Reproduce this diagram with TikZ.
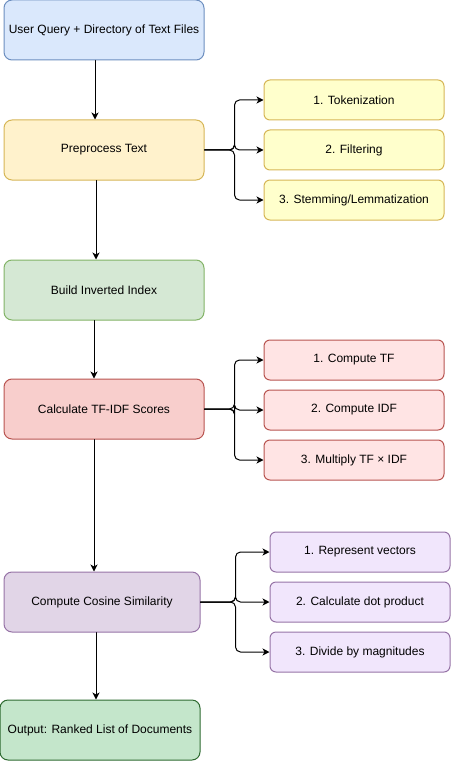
\documentclass[tikz,border=0pt]{standalone}
\usepackage{fontspec}
\setmainfont{Liberation Sans}
\usetikzlibrary{arrows.meta}
\definecolor{qfill}{HTML}{DAE8FC}\definecolor{qdraw}{HTML}{6C8EBF}
\definecolor{pfill}{HTML}{FFF2CC}\definecolor{pdraw}{HTML}{D6B656}
\definecolor{sfill}{HTML}{FFFFCC}
\definecolor{ifill}{HTML}{D5E8D4}\definecolor{idraw}{HTML}{82B366}
\definecolor{tfill}{HTML}{F8CECC}\definecolor{tdraw}{HTML}{B85450}
\definecolor{rfill}{HTML}{FFE4E4}
\definecolor{cfill}{HTML}{E1D5E7}\definecolor{cdraw}{HTML}{9673A6}
\definecolor{vfill}{HTML}{F1E6FC}
\definecolor{ofill}{HTML}{C4E6CB}\definecolor{odraw}{HTML}{2E6B30}

\begin{document}
\begin{tikzpicture}[x=1pt,y=-1pt,line cap=round,line join=round,>={Stealth[length=7pt,width=7pt,inset=2pt]},
	font=\fontsize{12}{14}\selectfont,
	mainbox/.style={rounded corners=8pt,line width=1pt,minimum width=200pt,minimum height=60pt,inner sep=0pt},
	subbox/.style={rounded corners=6pt,line width=1pt,minimum width=180pt,minimum height=40pt,inner sep=0pt},
	link/.style={->,line width=1pt},
	fork/.style={->,line width=1pt,rounded corners=5pt}]
	\useasboundingbox (0,0) rectangle (452,762);
	% main column
	\node[mainbox,fill=qfill,draw=qdraw] (query) at (104,30) {User Query + Directory of Text Files};
	\node[mainbox,fill=pfill,draw=pdraw] (prep) at (104,150) {Preprocess Text};
	\node[mainbox,fill=ifill,draw=idraw] (index) at (104,290) {Build Inverted Index};
	\node[mainbox,fill=tfill,draw=tdraw] (tfidf) at (104,409) {Calculate TF-IDF Scores};
	\node[mainbox,fill=cfill,draw=cdraw,minimum width=196pt] (cosine) at (102,602) {Compute Cosine Similarity};
	\node[mainbox,fill=ofill,draw=odraw] (output) at (100,730) {Output: Ranked List of Documents};
	% sub steps
	\node[subbox,fill=sfill,draw=pdraw] (token) at (354,100) {1. Tokenization};
	\node[subbox,fill=sfill,draw=pdraw] (filter) at (354,150) {2. Filtering};
	\node[subbox,fill=sfill,draw=pdraw] (stem) at (354,200) {3. Stemming/Lemmatization};
	\node[subbox,fill=rfill,draw=tdraw] (tf) at (354,360) {1. Compute TF};
	\node[subbox,fill=rfill,draw=tdraw] (idf) at (354,410) {2. Compute IDF};
	\node[subbox,fill=rfill,draw=tdraw] (mult) at (354,460) {3. Multiply TF × IDF};
	\node[subbox,fill=vfill,draw=cdraw] (vect) at (360,552) {1. Represent vectors};
	\node[subbox,fill=vfill,draw=cdraw] (dot) at (360,602) {2. Calculate dot product};
	\node[subbox,fill=vfill,draw=cdraw] (magn) at (360,652) {3. Divide by magnitudes};
	% flow
	\draw[link] ([xshift=-9pt]query.south) -- ([xshift=-9pt]query.south |- prep.north);
	\draw[link] ([xshift=-8pt]prep.south) -- ([xshift=-8pt]prep.south |- index.north);
	\draw[link] ([xshift=-10pt]index.south) -- ([xshift=-10pt]index.south |- tfidf.north);
	\draw[link] ([xshift=-10pt]tfidf.south) -- ([xshift=-10pt]tfidf.south |- cosine.north);
	\draw[link] ([xshift=-6pt]cosine.south) -- ([xshift=-6pt]cosine.south |- output.north);
	% branches
	\foreach \s in {token,filter,stem} \draw[fork] (prep.east) -- ++(30,0) |- (\s.west);
	\foreach \s in {tf,idf,mult} \draw[fork] (tfidf.east) -- ++(30,0) |- (\s.west);
	\foreach \s in {vect,dot,magn} \draw[fork] (cosine.east) -- ++(35,0) |- (\s.west);
\end{tikzpicture}
\end{document}
